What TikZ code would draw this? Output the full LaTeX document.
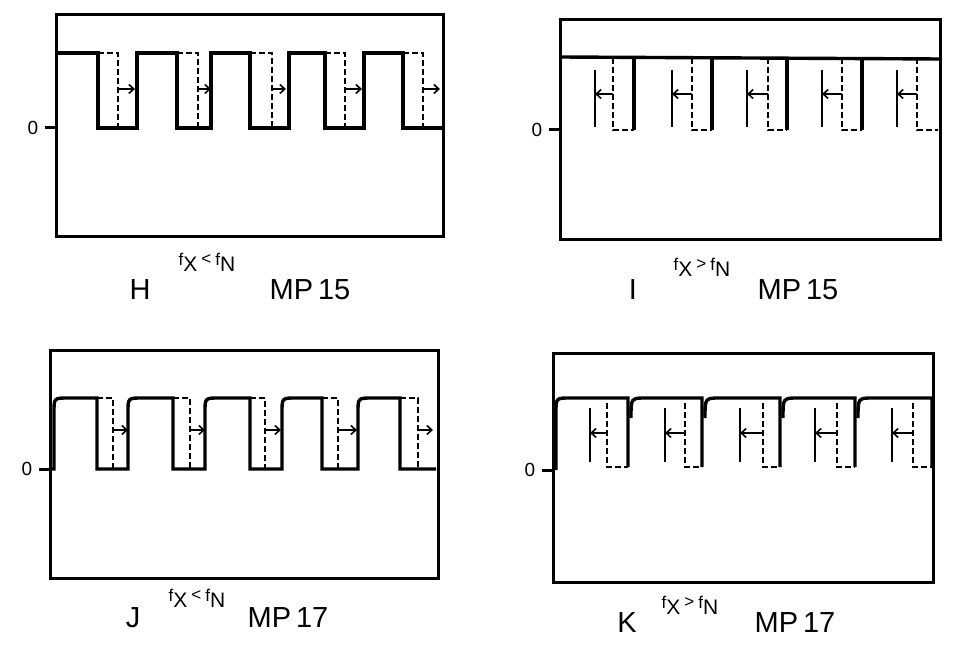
\documentclass[tikz,border=0pt]{standalone}
\usepackage{fontspec}
\setmainfont{Liberation Sans}
\usetikzlibrary{arrows.meta}

\newcommand{\fcond}[1]{{\fontsize{17}{17}\selectfont f\raisebox{-6pt}{\fontsize{21}{21}\selectfont X}\hspace{4pt}\raisebox{1pt}{#1}\hspace{4pt}f\raisebox{-6pt}{\fontsize{21}{21}\selectfont N}}}

\begin{document}
\begin{tikzpicture}
[x=1pt,y=-1pt,
  boxDecorate/.style={draw,line width=3pt},%
  waveDecorate/.style={line width=3.4pt,line join=miter},%
  shiftDecorate/.style={line width=2pt,dash pattern=on 6pt off 3pt},%
  edgeDecorate/.style={line width=2.2pt},%
  arrowDecorate/.style={line width=1.6pt,-{Straight Barb[length=5pt,width=9pt]}},%
  zeroDecorate/.style={font=\fontsize{19}{19}\selectfont,inner sep=0pt},%
  panelDecorate/.style={font=\fontsize{29}{29}\selectfont,inner sep=0pt},%
  condDecorate/.style={inner sep=0pt}]
\useasboundingbox (0,0) rectangle (953,652);
%% frames and zero marks
\foreach \name/\xl/\yt/\xr/\yb/\yz in {H/56/15/443/237/128, I/560/20/940/240/130,
  J/50/350/438/578/469, K/553/353/933/582/470}
{
  \draw[boxDecorate] (\xl,\yt) rectangle (\xr,\yb);
  \draw[boxDecorate] (\xl-11,\yz) -- (\xl,\yz);
  \node (zero\name) at (\xl-23,\yz) [zeroDecorate] {0};
}
%% panel H
\draw[waveDecorate] (56,53) -- (98,53) -- (98,128) -- (137,128) -- (137,53) -- (177,53)
  -- (177,128) -- (211,128) -- (211,53) -- (250,53) -- (250,128) -- (289,128) -- (289,53)
  -- (325,53) -- (325,128) -- (364,128) -- (364,53) -- (403,53) -- (403,128) -- (442,128);
\foreach \xf/\xd/\xa in {98/118/135, 177/198/211, 250/272/286, 325/345/362, 403/423/440}
{
  \draw[shiftDecorate] (\xf,53) -- (\xd,53) -- (\xd,128);
  \draw[arrowDecorate] (\xd,89) -- (\xa,89);
}
%% panel I
\draw[waveDecorate] (560,57) -- (940,59);
\foreach \xf in {634, 712, 787, 862}
{
  \draw[waveDecorate] (\xf,58) -- (\xf,130);
}
\foreach \xs/\xd/\xe in {595/613/634, 672/692/712, 747/768/787, 822/842/862, 897/917/938}
{
  \draw[shiftDecorate] (\xd,58) -- (\xd,130) -- (\xe,130);
  \draw[edgeDecorate] (\xs,70) -- (\xs,127);
  \draw[arrowDecorate] (\xd,94) -- (\xs,94);
}
%% panel J
\draw[waveDecorate] (52,469)
\foreach \r/\f/\n in {54/97/128, 128/173/205, 205/250/282, 282/322/358, 358/400/436}
{
  -- (\r,469) -- (\r,412) .. controls (\r,398) .. (\r+14,398) -- (\f,398) -- (\f,469) -- (\n,469)
};
\foreach \xf/\xd/\xa in {97/113/128, 173/190/205, 250/265/281, 322/338/357, 400/418/433}
{
  \draw[shiftDecorate] (\xf,398) -- (\xd,398) -- (\xd,469);
  \draw[arrowDecorate] (\xd,430) -- (\xa,430);
}
%% panel K
\draw[waveDecorate] (556,470) -- (556,412) .. controls (556,398) .. (570,398) -- (628,398) -- (628,467);
\foreach \r/\f in {628/702, 702/780, 780/855, 855/932}
{
  \draw[waveDecorate] (\r+3,418) .. controls (\r+3,398) .. (\r+18,398) -- (\f,398) -- (\f,467);
}
\foreach \xs/\xd/\xe in {590/607/628, 665/685/702, 740/763/780, 815/837/855, 892/913/932}
{
  \draw[shiftDecorate] (\xd,403) -- (\xd,467) -- (\xe,467);
  \draw[edgeDecorate] (\xs,408) -- (\xs,462);
  \draw[arrowDecorate] (\xd,433) -- (\xs,433);
}
%% captions
\node (condH) at (207,262) [condDecorate] {\fcond{<}};
\node (nameH) at (140,290) [panelDecorate] {H};
\node (mpH) at (310,290) [panelDecorate] {MP\,15};
\node (condI) at (702,267) [condDecorate] {\fcond{>}};
\node (nameI) at (633,290) [panelDecorate] {I};
\node (mpI) at (798,290) [panelDecorate] {MP\,15};
\node (condJ) at (197,598) [condDecorate] {\fcond{<}};
\node (nameJ) at (133,618) [panelDecorate] {J};
\node (mpJ) at (288,618) [panelDecorate] {MP\,17};
\node (condK) at (690,605) [condDecorate] {\fcond{>}};
\node (nameK) at (627,623) [panelDecorate] {K};
\node (mpK) at (795,623) [panelDecorate] {MP\,17};
\end{tikzpicture}
\end{document}
